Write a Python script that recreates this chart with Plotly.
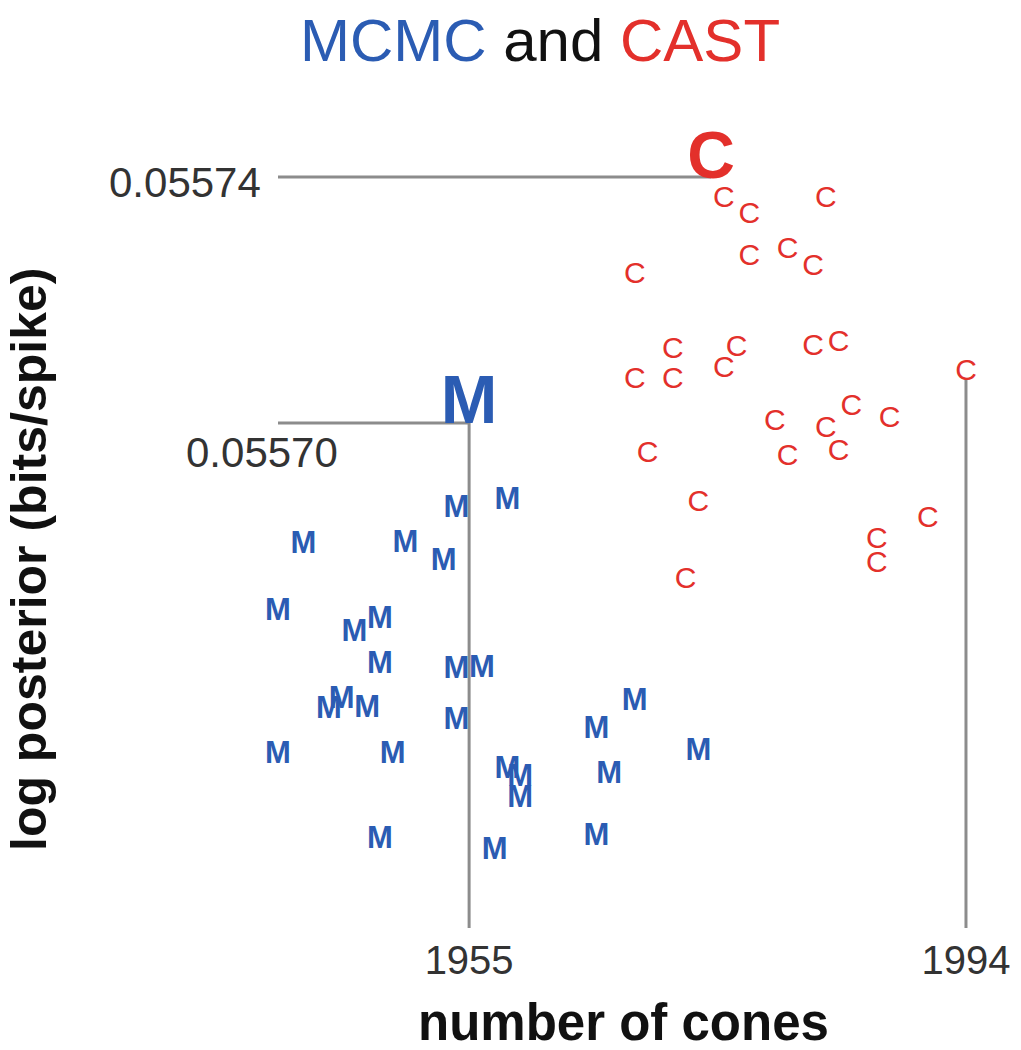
import plotly.graph_objects as go

# values
# MCMC runs: number of cones vs log posterior (bits/spike)
M_X = [1955, 1954, 1958, 1942, 1950, 1953, 1940, 1946, 1948, 1948, 1954, 1956,
       1944, 1945, 1947, 1954, 1968, 1965, 1940, 1949, 1973, 1958, 1959, 1959,
       1966, 1948, 1957, 1965]
M_Y = [0.0557000, 0.0556847, 0.0556860, 0.0556789, 0.0556790, 0.0556761, 0.0556680,
       0.0556645, 0.0556667, 0.0556593, 0.0556585, 0.0556587, 0.0556520, 0.0556537,
       0.0556522, 0.0556502, 0.0556533, 0.0556488, 0.0556447, 0.0556447, 0.0556452,
       0.0556423, 0.0556410, 0.0556376, 0.0556415, 0.0556309, 0.0556291, 0.0556314]

# CAST runs
C_X = [1974, 1975, 1977, 1983, 1977, 1980, 1982, 1968, 1971, 1976, 1975, 1968,
       1971, 1982, 1984, 1994, 1979, 1985, 1983, 1988, 1969, 1980, 1984, 1973,
       1991, 1987, 1987, 1972]
C_Y = [0.0557400, 0.0557351, 0.0557325, 0.0557351, 0.0557257, 0.0557268, 0.0557241,
       0.0557228, 0.0557106, 0.0557109, 0.0557075, 0.0557057, 0.0557057, 0.0557111,
       0.0557117, 0.0557070, 0.0556989, 0.0557013, 0.0556977, 0.0556994, 0.0556937,
       0.0556932, 0.0556940, 0.0556858, 0.0556831, 0.0556798, 0.0556758, 0.0556732]

X_TICKS = [1955, 1994]
Y_TICKS = [0.05574, 0.05570]
Y_TICKTEXT = ["0.05574", "0.05570"]

X_RANGE = [1940.0, 1996.67]
Y_RANGE = [0.05561789, 0.05574927]

BLUE = "#2b5cb3"
RED = "#e3302b"
GRAY = "#8c8c8c"
FONT = "Liberation Sans, Arial, Helvetica, sans-serif"

# the page body has an 8px margin, so page pixel positions are shifted by OFF
OFF = 8
W, H = 1021 - OFF, 1050 - OFF
PLOT_LEFT, PLOT_RIGHT = 278, 1000        # page px
PLOT_TOP, PLOT_BOTTOM = 120, 928         # page px of the main y axis
AREA_BOTTOM = 945                        # page px, lowest shifted domain
M_L, M_R = PLOT_LEFT - OFF, W - (PLOT_RIGHT - OFF)
M_T, M_B = PLOT_TOP - OFF, H - (AREA_BOTTOM - OFF)
PLOT_H = H - M_T - M_B
SMALL_M = 31
SMALL_C = 30
BIG = 68


def px_to_paper_x(px):
    return (px - PLOT_LEFT) / (PLOT_RIGHT - PLOT_LEFT)


def px_to_paper_y(py):
    return (AREA_BOTTOM - py) / PLOT_H


def domain_for(shift):
    # y domain of the main plot moved down by `shift` pixels,
    # so text drawn "top center" sits with its baseline on the point
    return [px_to_paper_y(PLOT_BOTTOM + shift), px_to_paper_y(PLOT_TOP + shift)]


m_best = max(range(len(M_Y)), key=lambda i: M_Y[i])
c_best = max(range(len(C_Y)), key=lambda i: C_Y[i])
c_far = max(range(len(C_X)), key=lambda i: C_X[i])

fig = go.Figure()

line = dict(color=GRAY, width=3)
# range-frame lines from the axes to the extreme runs
fig.add_trace(go.Scatter(x=[X_RANGE[0], C_X[c_best]], y=[C_Y[c_best], C_Y[c_best]],
                         mode="lines", line=line, hoverinfo="skip"))
fig.add_trace(go.Scatter(x=[X_RANGE[0], M_X[m_best]], y=[M_Y[m_best], M_Y[m_best]],
                         mode="lines", line=line, hoverinfo="skip"))
fig.add_trace(go.Scatter(x=[M_X[m_best], M_X[m_best]], y=[M_Y[m_best], Y_RANGE[0]],
                         mode="lines", line=line, hoverinfo="skip"))
fig.add_trace(go.Scatter(x=[C_X[c_far], C_X[c_far]], y=[C_Y[c_far], Y_RANGE[0]],
                         mode="lines", line=line, hoverinfo="skip"))

# small letters
mx = [x for i, x in enumerate(M_X) if i != m_best]
my = [y for i, y in enumerate(M_Y) if i != m_best]
cx = [x for i, x in enumerate(C_X) if i != c_best]
cy = [y for i, y in enumerate(C_Y) if i != c_best]

fig.add_trace(go.Scatter(
    x=mx, y=my, yaxis="y2", mode="text", text=["M"] * len(mx),
    textposition="top center", cliponaxis=False, name="MCMC",
    textfont=dict(family=FONT, size=SMALL_M, color=BLUE, weight="bold")))
fig.add_trace(go.Scatter(
    x=cx, y=cy, yaxis="y2", mode="text", text=["C"] * len(cx),
    textposition="top center", cliponaxis=False, name="CAST",
    textfont=dict(family=FONT, size=SMALL_C, color=RED)))

# best runs, big letters
fig.add_trace(go.Scatter(
    x=[M_X[m_best]], y=[M_Y[m_best]], yaxis="y3", mode="text", text=["M"],
    textposition="top center", cliponaxis=False, name="MCMC best",
    textfont=dict(family=FONT, size=BIG, color=BLUE, weight="bold")))
fig.add_trace(go.Scatter(
    x=[C_X[c_best]], y=[C_Y[c_best]], yaxis="y3", mode="text", text=["C"],
    textposition="top center", cliponaxis=False, name="CAST best",
    textfont=dict(family=FONT, size=BIG - 2, color=RED, weight="bold")))

annotations = [
    dict(text=Y_TICKTEXT[0], xref="paper", yref="y", x=px_to_paper_x(263), y=Y_TICKS[0],
         xanchor="right", yanchor="middle", yshift=-5, showarrow=False,
         font=dict(family=FONT, size=42, color="#333333")),
    dict(text=Y_TICKTEXT[1], xref="paper", yref="y", x=px_to_paper_x(262), y=Y_TICKS[1],
         xanchor="center", yanchor="middle", yshift=-29, showarrow=False,
         font=dict(family=FONT, size=42, color="#333333")),
    dict(text="<b>number of cones</b>", xref="paper", yref="paper",
         x=px_to_paper_x(623), y=px_to_paper_y(1022), xanchor="center", yanchor="middle",
         showarrow=False, font=dict(family=FONT, size=51, color="#111111")),
    dict(text="<b>log posterior (bits/spike)</b>", xref="paper", yref="paper",
         x=px_to_paper_x(29), y=px_to_paper_y(560), xanchor="center", yanchor="middle",
         textangle=-90, showarrow=False, font=dict(family=FONT, size=50, color="#111111")),
]

fig.update_layout(
    width=W, height=H,
    margin=dict(l=M_L, r=M_R, t=M_T, b=M_B, autoexpand=False),
    paper_bgcolor="white", plot_bgcolor="rgba(0,0,0,0)",
    showlegend=False,
    title=dict(
        text=f"<span style='color:{BLUE}'>MCMC</span> and <span style='color:{RED}'>CAST</span>",
        font=dict(family=FONT, size=60, color="#111111"),
        x=(540 - OFF) / W, xref="container", xanchor="center",
        y=1 - (40 - OFF) / H, yref="container", yanchor="middle"),
    xaxis=dict(range=X_RANGE, anchor="y", tickvals=X_TICKS, ticktext=[str(v) for v in X_TICKS],
               showgrid=False, zeroline=False, showline=False, ticks="",
               ticklabelstandoff=5, tickfont=dict(family=FONT, size=40, color="#333333")),
    yaxis=dict(range=Y_RANGE, domain=domain_for(0), showticklabels=False, showgrid=False,
               zeroline=False, showline=False, ticks=""),
    yaxis2=dict(range=Y_RANGE, domain=domain_for(SMALL_M * 0.25), anchor="x", visible=False),
    yaxis3=dict(range=Y_RANGE, domain=domain_for(BIG * 0.25), anchor="x", visible=False),
    annotations=annotations,
)

fig.write_html("out.html")
